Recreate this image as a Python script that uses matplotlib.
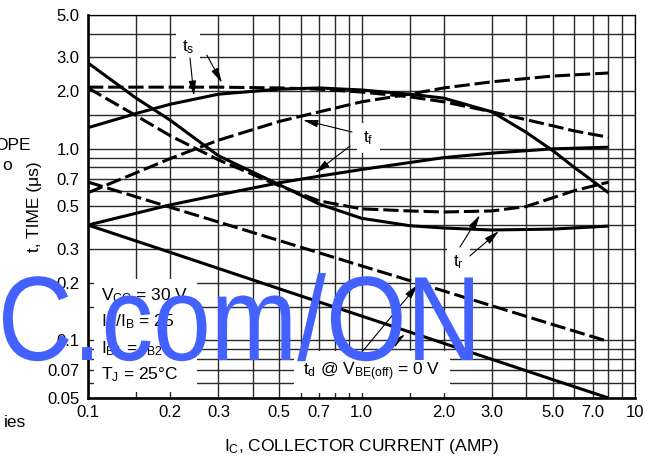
import matplotlib
matplotlib.use("Agg")
import matplotlib.pyplot as plt
from matplotlib.textpath import TextPath
from matplotlib.patches import PathPatch
from matplotlib.font_manager import FontProperties
from matplotlib.transforms import Affine2D, IdentityTransform

plt.rcParams.update({
    "font.family": ["Liberation Sans", "DejaVu Sans"],
    "font.size": 12,
    "mathtext.fontset": "custom",
    "mathtext.rm": "Liberation Sans",
    "mathtext.it": "Liberation Sans:italic",
    "mathtext.default": "regular",
})

# ---- data (I_C in A, t in us) ----
IC_TS_SOLID = [0.1, 0.15, 0.2, 0.3, 0.5, 0.7, 1.0, 1.5, 2.0, 3.0, 4.0, 5.0, 6.0, 8.0]
TS_SOLID = [1.29, 1.53, 1.71, 1.93, 2.05, 2.08, 2.03, 1.93, 1.84, 1.56, 1.22, 0.98, 0.80, 0.59]

IC_TS_DASH = [0.1, 0.2, 0.3, 0.5, 0.7, 1.0, 1.5, 2.0, 3.0, 4.0, 5.0, 6.0, 8.0]
TS_DASH = [2.10, 2.10, 2.10, 2.08, 2.05, 1.98, 1.87, 1.76, 1.56, 1.42, 1.32, 1.24, 1.15]

IC_TF_SOLID = [0.1, 0.2, 0.3, 0.5, 0.7, 1.0, 2.0, 3.0, 5.0, 8.0]
TF_SOLID = [0.40, 0.51, 0.575, 0.665, 0.72, 0.78, 0.90, 0.95, 1.0, 1.02]

IC_TF_DASH = [0.1, 0.15, 0.2, 0.3, 0.5, 0.7, 1.0, 1.5, 2.0, 3.0, 5.0, 8.0]
TF_DASH = [0.59, 0.75, 0.89, 1.11, 1.39, 1.56, 1.76, 1.93, 2.08, 2.24, 2.40, 2.49]

IC_TR_SOLID = [0.1, 0.15, 0.2, 0.3, 0.5, 0.7, 1.0, 1.5, 2.0, 3.0, 5.0, 8.0]
TR_SOLID = [2.81, 1.84, 1.41, 0.92, 0.65, 0.515, 0.434, 0.397, 0.386, 0.377, 0.381, 0.395]

IC_TR_DASH = [0.1, 0.15, 0.2, 0.3, 0.5, 0.7, 1.0, 1.5, 2.0, 3.0, 4.0, 5.0, 6.0, 8.0]
TR_DASH = [2.08, 1.49, 1.17, 0.876, 0.642, 0.535, 0.486, 0.474, 0.468, 0.474, 0.50, 0.555, 0.605, 0.67]

IC_TD_SOLID = [0.1, 0.2, 0.5, 1.0, 2.0, 5.0, 8.0]
TD_SOLID = [0.40, 0.288, 0.186, 0.134, 0.0965, 0.0624, 0.05]

IC_TD_DASH = [0.1, 0.2, 0.5, 1.0, 2.0, 5.0, 8.0]
TD_DASH = [0.671, 0.495, 0.332, 0.245, 0.181, 0.121, 0.0986]

X_TICKS = [0.1, 0.2, 0.3, 0.5, 0.7, 1.0, 2.0, 3.0, 5.0, 7.0, 10]
X_TICKLABELS = ["0.1", "0.2", "0.3", "0.5", "0.7", "1.0", "2.0", "3.0", "5.0", "7.0", "10"]
Y_TICKS = [0.05, 0.07, 0.1, 0.2, 0.3, 0.5, 0.7, 1.0, 2.0, 3.0, 5.0]
Y_TICKLABELS = ["0.05", "0.07", "0.1", "0.2", "0.3", "0.5", "0.7", "1.0", "2.0", "3.0", "5.0"]
X_GRID = [0.15, 0.2, 0.3, 0.4, 0.5, 0.6, 0.7, 0.8, 0.9, 1.0, 1.5, 2, 3, 4, 5, 6, 7, 8, 9]
Y_GRID = [0.06, 0.07, 0.08, 0.09, 0.1, 0.15, 0.2, 0.3, 0.4, 0.5, 0.6, 0.7, 0.8, 0.9,
          1.0, 1.5, 2, 3, 4]

W, H = 651, 463
fig = plt.figure(figsize=(W / 100, H / 100), dpi=100)
ax = fig.add_axes([88 / W, 1 - 398 / H, (635 - 88) / W, (398 - 15) / H])
ax.set_xscale("log")
ax.set_yscale("log")
ax.set_xlim(0.1, 10)
ax.set_ylim(0.05, 5.0)

# grid
ax.set_xticks(X_TICKS)
ax.set_xticklabels(X_TICKLABELS)
ax.set_yticks(Y_TICKS)
ax.set_yticklabels(Y_TICKLABELS)
ax.set_xticks(X_GRID, minor=True)
ax.set_yticks(Y_GRID, minor=True)
ax.tick_params(which="both", length=0)
ax.tick_params(axis="x", pad=5, labelsize=12)
ax.tick_params(axis="y", pad=6, labelsize=12)
ax.xaxis.set_minor_formatter(plt.NullFormatter())
ax.yaxis.set_minor_formatter(plt.NullFormatter())
ax.grid(which="both", color="#2a2a2a", lw=1.0)
ax.set_axisbelow(True)

for side in ["left", "bottom"]:
    ax.spines[side].set_linewidth(1.9)
for side in ["top", "right"]:
    ax.spines[side].set_linewidth(0.9)

solid = dict(color="black", lw=2.2, solid_capstyle="butt", zorder=4)
dash = dict(color="black", lw=2.2, ls=(0, (5, 1.6)), dash_capstyle="butt", zorder=4)

ax.plot(IC_TS_SOLID, TS_SOLID, **solid)
ax.plot(IC_TS_DASH, TS_DASH, **dash)
ax.plot(IC_TF_SOLID, TF_SOLID, **solid)
ax.plot(IC_TF_DASH, TF_DASH, **dash)
ax.plot(IC_TR_SOLID, TR_SOLID, **solid)
ax.plot(IC_TR_DASH, TR_DASH, **dash)
ax.plot(IC_TD_SOLID, TD_SOLID, **solid)
ax.plot(IC_TD_DASH, TD_DASH, **dash)

ax.set_xlabel("I$_C$, COLLECTOR CURRENT (AMP)", fontsize=12.5, labelpad=12)
ax.set_ylabel("t, TIME (μs)", fontsize=12.5, labelpad=4)

box = dict(boxstyle="square,pad=0.35", fc="white", ec="none")
arrow = dict(arrowstyle="-|>,head_length=0.9,head_width=0.22", color="black",
             lw=0.8, shrinkA=0, shrinkB=0, mutation_scale=10)

def label(x, y, s, **kw):
    ax.text(x, y, s, ha="center", va="center", fontsize=12.5, bbox=box, zorder=5, **kw)

def arr(tail, tip):
    ax.annotate("", xy=tip, xytext=tail, arrowprops=arrow, zorder=6)

# t_s
label(0.232, 3.40, "t$_s$")
arr((0.236, 2.98), (0.244, 1.89))
arr((0.272, 3.09), (0.309, 2.21))
# t_f
label(1.06, 1.14, "t$_f$")
arr((0.923, 1.225), (0.611, 1.414))
arr((0.908, 1.035), (0.676, 0.748))
# t_r
label(2.27, 0.2566, "t$_r$")
arr((2.29, 0.307), (2.71, 0.451))
arr((2.49, 0.276), (3.18, 0.372))
# t_d
ax.text(1.09, 0.0683, "t$_d$ @ V$_{BE(off)}$ = 0 V", ha="center", va="center",
        fontsize=12.5, bbox=dict(boxstyle="square,pad=0.55", fc="white", ec="none"),
        zorder=5)
arr((0.963, 0.0809), (1.609, 0.196))
arr((1.219, 0.089), (1.443, 0.1075))

# test conditions
ax.text(0.112, 0.059, "V$_{CC}$ = 30 V\nI$_C$/I$_B$ = 25\nI$_{B1}$ = I$_{B2}$\nT$_J$ = 25°C",
        ha="left", va="bottom", fontsize=12.5, linespacing=1.55,
        bbox=dict(boxstyle="square,pad=0.45", fc="white", ec="none"), zorder=5)

# fragments of neighbouring page content
fig.text(31 / W, 1 - 150 / H, "OPE", ha="right", va="baseline", fontsize=12.5)
fig.text(7 / W, 1 - 165 / H, "o", ha="center", va="center", fontsize=12.5)
fig.text(26 / W, 1 - 427 / H, "ies", ha="right", va="baseline", fontsize=12.5)

# watermark: condensed sans text, drawn as a path in pixel space
wm = TextPath((0, 0), "C.com/ON", size=120, prop=FontProperties(family="Liberation Sans"))
ext = wm.get_extents()
sx = (473 - 3) / ext.width
wm_tr = Affine2D().scale(sx, 1.0).translate(3 - ext.x0 * sx, H - 360) + IdentityTransform()
fig.add_artist(PathPatch(wm, transform=wm_tr, fc="#4361FF", ec="none", zorder=20))

fig.savefig("out.png", dpi=100)
